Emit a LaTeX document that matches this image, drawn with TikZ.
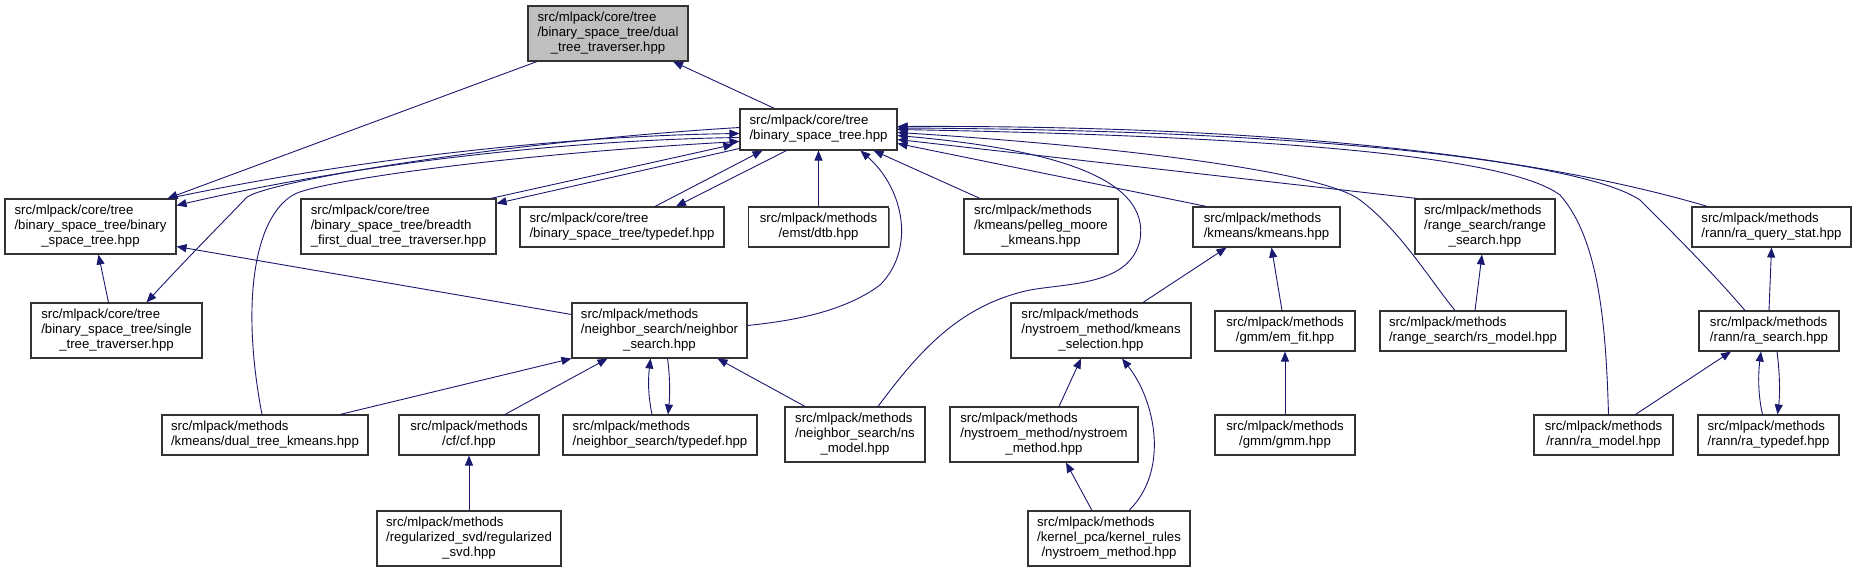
\documentclass[tikz,border=0pt]{standalone}
\usepackage{fontspec}
\setmainfont{Liberation Sans}
\usetikzlibrary{arrows.meta,shadows}
\definecolor{edgeblue}{HTML}{191970}
\newcommand{\lbltwo}[2]{\begin{tabular}{@{}l@{}}#1\\\multicolumn{1}{@{}c@{}}{#2}\end{tabular}}
\newcommand{\lblthree}[3]{\begin{tabular}{@{}l@{}}#1\\#2\\\multicolumn{1}{@{}c@{}}{#3}\end{tabular}}
\begin{document}
\begin{tikzpicture}[x=1pt,y=-1pt,
  box/.style={draw=black!80, line width=1.1pt, fill=white, inner sep=0pt,
    drop shadow={shadow xshift=1.2pt, shadow yshift=-1.2pt, fill=black!55, opacity=1},
    font=\fontsize{13.2}{15}\selectfont},
  edge/.style={draw=edgeblue, line width=0.9pt, {Triangle[length=10pt,width=8pt]}-}]
\useasboundingbox[fill=white] (0,0) rectangle (1857,572);
% nodes
\node[box, fill=black!25, minimum width=160pt, minimum height=55pt] (gray) at (608,33.5) {\lblthree{src/mlpack/core/tree}{/binary\_space\_tree/dual}{\_tree\_traverser.hpp}};
\node[box, minimum width=157pt, minimum height=41pt] (main) at (818.5,129.5) {\lbltwo{src/mlpack/core/tree}{/binary\_space\_tree.hpp}};
\node[box, minimum width=171pt, minimum height=55pt] (bbin) at (90.5,226.5) {\lblthree{src/mlpack/core/tree}{/binary\_space\_tree/binary}{\_space\_tree.hpp}};
\node[box, minimum width=195pt, minimum height=55pt] (breadth) at (398.5,226.5) {\lblthree{src/mlpack/core/tree}{/binary\_space\_tree/breadth}{\_first\_dual\_tree\_traverser.hpp}};
\node[box, minimum width=204pt, minimum height=40pt] (tdef) at (622,227) {\lbltwo{src/mlpack/core/tree}{/binary\_space\_tree/typedef.hpp}};
\node[box, minimum width=140pt, minimum height=40pt] (dtb) at (818.5,227) {\lbltwo{src/mlpack/methods}{/emst/dtb.hpp}};
\node[box, minimum width=154pt, minimum height=55pt] (pelleg) at (1041,226.5) {\lblthree{src/mlpack/methods}{/kmeans/pelleg\_moore}{\_kmeans.hpp}};
\node[box, minimum width=147pt, minimum height=40pt] (kmeans) at (1266.5,227) {\lbltwo{src/mlpack/methods}{/kmeans/kmeans.hpp}};
\node[box, minimum width=140pt, minimum height=55pt] (range) at (1485,226.5) {\lblthree{src/mlpack/methods}{/range\_search/range}{\_search.hpp}};
\node[box, minimum width=159pt, minimum height=40pt] (raqs) at (1771.5,227) {\lbltwo{src/mlpack/methods}{/rann/ra\_query\_stat.hpp}};
\node[box, minimum width=171pt, minimum height=55pt] (single) at (116.5,330.5) {\lblthree{src/mlpack/core/tree}{/binary\_space\_tree/single}{\_tree\_traverser.hpp}};
\node[box, minimum width=175pt, minimum height=55pt] (ns) at (659.5,330.5) {\lblthree{src/mlpack/methods}{/neighbor\_search/neighbor}{\_search.hpp}};
\node[box, minimum width=180pt, minimum height=55pt] (ks) at (1101,330.5) {\lblthree{src/mlpack/methods}{/nystroem\_method/kmeans}{\_selection.hpp}};
\node[box, minimum width=140pt, minimum height=40pt] (emfit) at (1285,331) {\lbltwo{src/mlpack/methods}{/gmm/em\_fit.hpp}};
\node[box, minimum width=186pt, minimum height=40pt] (rsmodel) at (1473,331) {\lbltwo{src/mlpack/methods}{/range\_search/rs\_model.hpp}};
\node[box, minimum width=140pt, minimum height=40pt] (rasearch) at (1769,331) {\lbltwo{src/mlpack/methods}{/rann/ra\_search.hpp}};
\node[box, minimum width=206pt, minimum height=40pt] (dtk) at (265,435) {\lbltwo{src/mlpack/methods}{/kmeans/dual\_tree\_kmeans.hpp}};
\node[box, minimum width=140pt, minimum height=40pt] (cf) at (469,435) {\lbltwo{src/mlpack/methods}{/cf/cf.hpp}};
\node[box, minimum width=194pt, minimum height=40pt] (nstdef) at (660,435) {\lbltwo{src/mlpack/methods}{/neighbor\_search/typedef.hpp}};
\node[box, minimum width=140pt, minimum height=55pt] (nsmodel) at (855,434.5) {\lblthree{src/mlpack/methods}{/neighbor\_search/ns}{\_model.hpp}};
\node[box, minimum width=188pt, minimum height=55pt] (nm) at (1044,434.5) {\lblthree{src/mlpack/methods}{/nystroem\_method/nystroem}{\_method.hpp}};
\node[box, minimum width=140pt, minimum height=40pt] (gmm) at (1285,435) {\lbltwo{src/mlpack/methods}{/gmm/gmm.hpp}};
\node[box, minimum width=139pt, minimum height=40pt] (ramodel) at (1603.5,435) {\lbltwo{src/mlpack/methods}{/rann/ra\_model.hpp}};
\node[box, minimum width=141pt, minimum height=40pt] (ratdef) at (1768.5,435) {\lbltwo{src/mlpack/methods}{/rann/ra\_typedef.hpp}};
\node[box, minimum width=184pt, minimum height=55pt] (svd) at (469,538.5) {\lblthree{src/mlpack/methods}{/regularized\_svd/regularized}{\_svd.hpp}};
\node[box, minimum width=162pt, minimum height=55pt] (kr) at (1109,538.5) {\lblthree{src/mlpack/methods}{/kernel\_pca/kernel\_rules}{/nystroem\_method.hpp}};
% edges (arrow head at first end)
\draw[edge] ([xshift=65pt]gray.south) -- ([xshift=-44pt]main.north);
\draw[edge] ([xshift=77pt]bbin.north) -- ([xshift=-71pt]gray.south);
\draw[edge] ([yshift=-7pt]bbin.north east) .. controls (350,165) and (560,140) .. ([yshift=-8pt]main.west);
\draw[edge] ([yshift=-4pt]main.west) .. controls (560,136) and (350,160) .. ([xshift=-8pt]bbin.north east);
\draw[edge] ([xshift=30pt]single.north) .. controls (190,255) and (235,210) .. (246,198) .. controls (262,182) and (500,142) .. ([yshift=2pt]main.west);
\draw[edge] ([yshift=-12pt]main.west) .. controls (500,155) and (330,180) .. (297,193) .. controls (255,212) and (240,300) .. ([xshift=-3pt]dtk.north);
\draw[edge] ([xshift=-6pt,yshift=-15pt]main.west) -- ([xshift=-6pt]breadth.north east);
\draw[edge] ([yshift=-5pt]breadth.north east) -- ([yshift=-19pt]main.west);
\draw[edge] ([xshift=-56pt]main.south) -- ([xshift=33pt]tdef.north);
\draw[edge] ([xshift=54pt]tdef.north) -- ([xshift=-32pt]main.south);
\draw[edge] (main.south) -- (dtb.north);
\draw[edge] ([xshift=42pt]main.south) .. controls (905,190) and (915,250) .. (880,285) .. controls (840,315) and (780,322) .. ([yshift=5pt]ns.east);
\draw[edge] ([xshift=-24pt]main.south east) -- ([xshift=-61pt]pelleg.north);
\draw[edge] ([yshift=-6pt]main.east) .. controls (1060,150) and (1150,180) .. (1140,240) .. controls (1130,285) and (1070,283) .. (1030,290) .. controls (960,305) and (920,350) .. ([xshift=23pt]nsmodel.north);
\draw[edge] ([yshift=-14pt]main.east) -- ([xshift=-60pt]kmeans.north);
\draw[edge] ([yshift=-10pt]main.east) -- ([xshift=-68pt]range.north);
\draw[edge] ([yshift=3pt]main.east) .. controls (1300,125) and (1550,160) .. ([xshift=-64pt]raqs.north);
\draw[edge] ([yshift=-3pt]main.east) .. controls (1100,145) and (1320,170) .. (1360,200) .. controls (1400,230) and (1430,280) .. ([xshift=-18pt]rsmodel.north);
\draw[edge] ([yshift=0pt]main.east) .. controls (1200,135) and (1500,150) .. (1560,195) .. controls (1600,240) and (1606,330) .. ([xshift=5pt]ramodel.north);
\draw[edge] ([yshift=1.5pt]main.east) .. controls (1300,130) and (1580,160) .. (1640,200) .. controls (1680,240) and (1710,270) .. ([xshift=-24pt]rasearch.north);
\draw[edge] ([yshift=-20pt]bbin.east) -- ([yshift=16pt]ns.west);
\draw[edge] ([xshift=8pt]bbin.south) -- ([xshift=-8pt]single.north);
\draw[edge] (ns.south west) -- ([xshift=75pt]dtk.north);
\draw[edge] ([xshift=-52pt]ns.south) -- ([xshift=36pt]cf.north);
\draw[edge] ([xshift=-9pt]ns.south) .. controls (648,380) and (648,395) .. ([xshift=-8pt]nstdef.north);
\draw[edge] ([xshift=8pt]nstdef.north) .. controls (670,395) and (670,375) .. ([xshift=8pt]ns.south);
\draw[edge] ([xshift=58pt]ns.south) -- ([xshift=-50pt]nsmodel.north);
\draw[edge] (cf.south) -- (svd.north);
\draw[edge] ([xshift=-40pt]kmeans.south) -- ([xshift=42pt]ks.north);
\draw[edge] ([xshift=5pt]kmeans.south) -- ([xshift=-3pt]emfit.north);
\draw[edge] (emfit.south) -- (gmm.north);
\draw[edge] ([xshift=-3pt]range.south) -- ([xshift=2pt]rsmodel.north);
\draw[edge] (raqs.south) -- (rasearch.north);
\draw[edge] ([xshift=-38pt]rasearch.south) -- ([xshift=32pt]ramodel.north);
\draw[edge] ([xshift=-8pt]rasearch.south) .. controls (1758,375) and (1758,395) .. ([xshift=-6pt]ratdef.north);
\draw[edge] ([xshift=9pt]ratdef.north) .. controls (1780,395) and (1780,375) .. ([xshift=8pt]rasearch.south);
\draw[edge] ([xshift=-20pt]ks.south) -- ([xshift=15pt]nm.north);
\draw[edge] ([xshift=21pt]ks.south) .. controls (1155,400) and (1170,470) .. ([xshift=20pt]kr.north);
\draw[edge] ([xshift=22pt]nm.south) -- ([xshift=-17pt]kr.north);
\end{tikzpicture}
\end{document}
